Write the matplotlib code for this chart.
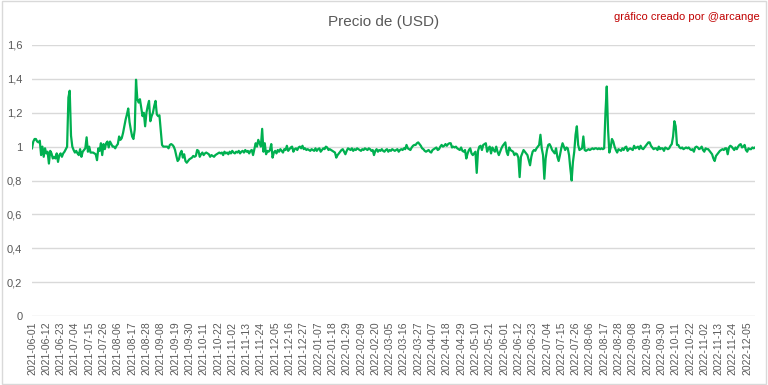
import matplotlib.pyplot as plt
from matplotlib.patches import Rectangle

# precio diario (jun 2021 - dic 2022)
tramo_2021_a = [
    0.99, 1.03, 1.045, 1.045, 1.03, 1.025, 1.035, 0.95, 1.0, 0.94,
    0.99, 0.96, 0.97, 0.90, 0.975, 0.96, 0.93, 0.94, 0.93, 0.96,
    0.91, 0.95, 0.96, 0.94, 0.96, 0.97, 0.985, 1.0, 1.29, 1.33,
    1.065, 1.0, 0.98, 0.965, 0.975, 0.96, 0.95, 0.985, 0.94, 0.97,
    0.98, 0.99, 1.055, 0.97, 1.0, 0.965, 0.965, 0.965, 0.96, 0.955,
    0.92, 0.99, 0.975, 1.02, 0.95, 1.015, 0.985, 1.02, 1.03, 0.995,
    1.03, 1.015, 1.0, 1.0, 0.99, 1.005, 1.015, 1.06, 1.04, 1.05,
    1.08, 1.12, 1.16, 1.19, 1.225, 1.145, 1.1, 1.06, 1.045, 1.10,
    1.395, 1.28, 1.26, 1.28, 1.23, 1.18, 1.2, 1.12, 1.2, 1.24,
    1.27, 1.15, 1.18, 1.2, 1.24, 1.27, 1.19, 1.18, 1.185, 1.1,
    1.01, 1.0, 1.0, 1.0, 1.0, 0.99, 1.01, 1.015, 1.01, 1.0,
    0.98, 0.945, 0.915, 0.925, 0.96, 0.975, 0.935, 0.955, 0.915, 0.905,
    0.915, 0.925, 0.93, 0.935, 0.945, 0.94, 0.945, 0.98, 0.975, 0.94,
    0.955, 0.965, 0.95, 0.96, 0.965, 0.96, 0.955, 0.94, 0.95, 0.945,
    0.94, 0.95, 0.955, 0.96, 0.965,
]
tramo_2021_b = [
    0.96, 0.965, 0.95, 0.97, 0.96, 0.965, 0.955, 0.97, 0.96, 0.975,
    0.965, 0.96, 0.97, 0.965, 0.975, 0.96, 0.97, 0.975, 0.965, 0.98,
    0.97, 0.975, 0.96, 0.975, 0.98, 0.95, 0.985, 1.02, 1.0, 1.04,
    1.02, 1.0, 1.105, 0.97, 1.02, 0.955, 0.975, 0.97, 0.98, 1.015,
    0.935, 0.965, 0.975, 0.96, 0.98, 0.97, 0.985, 0.975, 0.965, 0.985,
    0.98, 1.005, 0.975, 0.985, 0.995, 1.0, 0.97, 0.985, 0.99, 0.98,
    0.995, 1.0, 0.99, 1.005, 0.985, 0.99, 0.98, 0.985, 0.98, 0.975,
    0.985, 0.98, 0.975, 0.99, 0.975, 0.985, 0.99, 0.97, 0.98, 0.99,
    0.985, 1.0, 0.995, 0.98, 0.985, 0.98, 0.975, 0.97, 0.965, 0.935,
    0.95, 0.96, 0.97, 0.98, 0.985, 0.97, 0.955, 0.975, 0.99, 0.985,
    0.98, 0.99, 0.975, 0.985, 0.98, 0.99, 0.985, 0.98, 0.975, 0.985,
    0.98, 0.99, 0.985, 0.98, 0.99, 0.985, 0.975, 0.98, 0.95, 0.975,
    0.985, 0.97, 0.98, 0.975, 0.985, 0.975, 0.97, 0.98, 0.985, 0.97,
    0.98, 0.975, 0.985, 0.98, 0.975, 0.98, 0.985, 0.97, 0.98, 0.985,
    0.98, 0.99, 0.985, 1.01, 0.99, 0.985, 0.98,
]
tramo_2022_a = [
    0.995, 1.005, 1.01, 1.01, 1.02, 1.025, 1.015, 1.005, 0.99, 0.985,
    0.975, 0.97, 0.975, 0.98, 0.97, 0.965, 0.98, 0.985, 0.99, 0.995,
    0.98, 0.985, 1.0, 1.01, 1.0, 1.005, 1.015, 1.005, 1.015, 1.02,
    1.02, 0.995, 1.0, 0.995, 1.0, 0.99, 0.985, 0.98, 0.995, 0.975,
    0.97, 0.98, 0.93, 0.96, 0.98, 0.99, 0.96, 0.95, 0.96, 0.97,
    0.845, 0.975, 1.0, 1.005, 0.98, 1.01, 1.015, 1.02, 0.97, 0.99,
    1.0, 0.96, 0.995, 0.98, 0.97, 1.0, 0.97, 0.95, 0.97, 0.99,
    1.005, 1.015, 1.025, 0.97, 0.95, 0.995, 0.98, 0.975, 0.97, 0.95,
    0.96, 0.955, 0.935, 0.82, 0.94, 0.96, 0.98, 0.97, 0.96, 0.95,
    0.92, 0.89, 0.94, 0.97, 0.98, 0.975, 0.99, 1.0, 1.01, 1.07,
    0.99, 0.95, 0.81, 0.93, 0.98, 1.01, 1.015, 1.0, 0.98, 0.97,
    0.96, 0.99, 0.94, 0.915, 0.95, 0.99, 1.02, 1.0, 0.98, 0.995,
    0.99, 0.95, 0.87, 0.80, 0.91, 0.97, 1.07, 1.12, 1.01, 0.98,
    0.985, 0.99, 1.06, 0.98, 0.975, 0.98, 0.985, 0.98, 0.985,
]
tramo_2022_b = [
    0.99, 0.985, 0.99, 0.99, 0.985, 0.99, 0.985, 0.99, 0.985, 0.99,
    1.2, 1.355, 1.1, 0.965, 0.995, 1.045, 1.03, 1.0, 0.98, 0.965,
    0.985, 0.98, 0.975, 0.99, 0.98, 0.995, 1.0, 0.975, 0.985, 0.99,
    0.985, 0.98, 1.005, 0.99, 0.995, 1.0, 0.985, 1.005, 0.99, 0.985,
    0.995, 1.005, 1.015, 1.025, 1.025, 1.005, 0.995, 0.985, 0.99, 0.99,
    0.98, 1.0, 0.985, 0.99, 0.99, 0.975, 0.995, 0.99, 0.985, 0.99,
    1.005, 1.015, 1.06, 1.15, 1.12, 1.01, 1.01, 0.995, 0.99, 0.995,
    0.985, 0.99, 0.995, 0.99, 0.995, 0.985, 0.98, 0.985, 0.97, 0.995,
    1.0, 0.995, 0.985, 0.99, 1.0, 0.98, 0.97, 0.99, 0.985, 0.985,
    0.975, 0.965, 0.955, 0.93, 0.915, 0.945, 0.955, 0.965, 0.975, 0.98,
    0.985, 0.98, 0.99, 0.99, 0.955, 0.995, 1.005, 1.0, 0.99, 0.98,
    0.995, 0.985, 1.0, 1.01, 1.015, 0.995, 1.0, 1.01, 0.98, 0.97,
    0.99, 0.985, 0.985, 0.995, 0.99, 0.995,
]
precio = tramo_2021_a + tramo_2021_b + tramo_2022_a + tramo_2022_b

etiquetas = [
    "2021-06-01", "2021-06-12", "2021-06-23", "2021-07-04", "2021-07-15",
    "2021-07-26", "2021-08-06", "2021-08-17", "2021-08-28", "2021-09-08",
    "2021-09-19", "2021-09-30", "2021-10-11", "2021-10-22", "2021-11-02",
    "2021-11-13", "2021-11-24", "2021-12-05", "2021-12-16", "2021-12-27",
    "2022-01-07", "2022-01-18", "2022-01-29", "2022-02-09", "2022-02-20",
    "2022-03-05", "2022-03-16", "2022-03-27", "2022-04-07", "2022-04-18",
    "2022-04-29", "2022-05-10", "2022-05-21", "2022-06-01", "2022-06-12",
    "2022-06-23", "2022-07-04", "2022-07-15", "2022-07-26", "2022-08-06",
    "2022-08-17", "2022-08-28", "2022-09-08", "2022-09-19", "2022-09-30",
    "2022-10-11", "2022-10-22", "2022-11-02", "2022-11-13", "2022-11-24",
    "2022-12-05",
]
y_ticks = [0, 0.2, 0.4, 0.6, 0.8, 1.0, 1.2, 1.4, 1.6]
y_labels = ["0", "0,2", "0,4", "0,6", "0,8", "1", "1,2", "1,4", "1,6"]

plt.rcParams['font.family'] = ['Liberation Sans', 'DejaVu Sans']
gris = '#595959'

fig = plt.figure(figsize=(7.68, 3.85), dpi=100)
ax = fig.add_axes([32 / 768, 1 - 316 / 385, (755 - 32) / 768, (316 - 45) / 385])

ax.plot(range(len(precio)), precio, color='#00B050', lw=1.6)

ax.set_ylim(0, 1.6)
ax.set_yticks(y_ticks)
ax.set_yticklabels(y_labels)
ax.set_xlim(0, len(precio) - 1)
ax.set_xticks(range(0, 11 * len(etiquetas), 11))
ax.set_xticklabels(etiquetas, rotation=90)

ax.grid(axis='y', color='#D9D9D9', lw=1)
ax.set_axisbelow(True)
for s in ax.spines.values():
    s.set_visible(False)
ax.tick_params(length=0, colors=gris)
ax.tick_params(axis='y', labelsize=8, pad=7)
ax.tick_params(axis='x', labelsize=7.5, pad=4)

fig.text(0.5, 1 - 22 / 385, 'Precio de (USD)', ha='center', va='center',
         fontsize=11, color=gris)
fig.text(760 / 768, 1 - 17 / 385, 'gráfico creado por @arcange', ha='right',
         va='center', fontsize=8, color='#C00000')

fig.patches.append(Rectangle((0.002, 0.003), 0.995, 0.994, transform=fig.transFigure,
                             fill=False, edgecolor='#D9D9D9', lw=1))

fig.savefig('out.png', dpi=100)
